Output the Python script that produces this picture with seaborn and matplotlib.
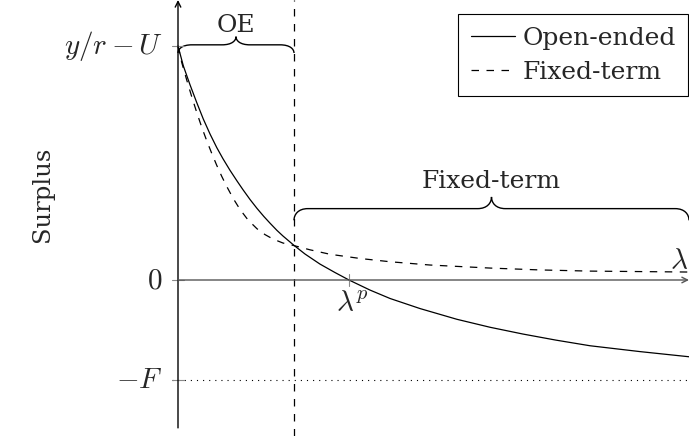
import numpy as np
import pandas as pd
import matplotlib
matplotlib.use("Agg")
import matplotlib.pyplot as plt
from matplotlib.path import Path
from matplotlib.patches import PathPatch
from matplotlib.lines import Line2D
import seaborn as sns

# ---- data (x in units of the OE/Fixed-term cutoff, y in units of y/r - U) ----
oe_x = [0.0, 0.046, 0.103, 0.161, 0.218, 0.276, 0.334, 0.388, 0.448, 0.509, 0.560,
        0.621, 0.681, 0.741, 0.793, 0.853, 0.905, 1.0, 1.095, 1.224, 1.353, 1.474,
        1.655, 1.828, 2.086, 2.405, 2.690, 2.974, 3.259, 3.552, 3.983, 4.405]
oe_y = [1.0, 0.915, 0.835, 0.759, 0.688, 0.624, 0.566, 0.518, 0.469, 0.423, 0.386,
        0.344, 0.306, 0.271, 0.243, 0.212, 0.188, 0.148, 0.111, 0.068, 0.032, 0.0,
        -0.043, -0.079, -0.122, -0.168, -0.202, -0.231, -0.257, -0.281, -0.306, -0.328]
ft_x = [0.0, 0.032, 0.075, 0.118, 0.161, 0.204, 0.247, 0.291, 0.334, 0.377, 0.420,
        0.474, 0.534, 0.603, 0.681, 0.750, 0.819, 0.905, 1.0, 1.138, 1.310, 1.569,
        1.828, 2.172, 2.690, 3.121, 3.552, 3.983, 4.405]
ft_y = [1.0, 0.930, 0.855, 0.784, 0.717, 0.654, 0.596, 0.541, 0.490, 0.443, 0.400,
        0.350, 0.302, 0.257, 0.219, 0.194, 0.175, 0.158, 0.147, 0.129, 0.110, 0.092,
        0.078, 0.064, 0.051, 0.043, 0.038, 0.036, 0.034]
cutoff = 1.0
lambda_p = 1.474
F_level = -0.427
top_level = 1.0
ytick_vals = [top_level, 0.0, F_level]
ytick_labels = [r"$y/r - U$", r"$0$", r"$-F$"]
series_names = ["Open-ended", "Fixed-term"]

sns.set_style("white")
plt.rcParams["font.family"] = ["DejaVu Serif"]
plt.rcParams["mathtext.fontset"] = "cm"

DASH = (0, (6, 6))
TXT = 18
MATH = 21

fig = plt.figure(figsize=(6.89, 4.36), dpi=100)
ax = fig.add_axes([0, 0, 1, 1])
ax.set_xlim(-178 / 116, (689 - 178) / 116)
ax.set_ylim((280 - 436) / 234, 280 / 234)
ax.axis("off")

df = pd.concat([
    pd.DataFrame({"x": oe_x, "y": oe_y, "series": series_names[0]}),
    pd.DataFrame({"x": ft_x, "y": ft_y, "series": series_names[1]}),
])
sns.lineplot(data=df[df.series == series_names[0]], x="x", y="y", ax=ax,
             color="black", lw=0.9, sort=False, estimator=None, legend=False)
sns.lineplot(data=df[df.series == series_names[1]], x="x", y="y", ax=ax,
             color="black", lw=0.9, sort=False, estimator=None, legend=False,
             linestyle=DASH)

xmax = ax.get_xlim()[1]
ytop = ax.get_ylim()[1]
ybot = ax.get_ylim()[0]

# axes
ax.annotate("", xy=(0, ytop), xytext=(0, -0.632),
            arrowprops=dict(arrowstyle="->", lw=1.0, color="black", shrinkA=0, shrinkB=0))
ax.annotate("", xy=(xmax, 0), xytext=(0, 0),
            arrowprops=dict(arrowstyle="->", lw=1.0, color="#555555", shrinkA=0, shrinkB=0))

# cutoff dashed vertical
ax.plot([cutoff, cutoff], [ybot, ytop], color="black", lw=0.9, linestyle=DASH)
# -F dotted line
ax.plot([-0.05, xmax], [F_level, F_level], color="black", lw=0.8, linestyle=(0, (1, 4.5)))

# ticks
for v, lab in zip(ytick_vals, ytick_labels):
    ax.plot([-0.05, 0.05], [v, v], color="#888888", lw=0.8)
    ax.text(-0.13, v, lab, ha="right", va="center", fontsize=MATH)
ax.plot([lambda_p, lambda_p], [-0.025, 0.025], color="#888888", lw=0.8)
ax.text(lambda_p + 0.03, -0.04, r"$\lambda^p$", ha="center", va="top", fontsize=MATH)
ax.text(xmax - 0.01, 0.02, r"$\lambda$", ha="right", va="bottom", fontsize=MATH)

ax.text(-1.17, 0.365, "Surplus", rotation=90, ha="center", va="center", fontsize=17.5)


def brace(x0, x1, y, h):
    xm = (x0 + x1) / 2
    r = 0.12
    verts = [
        (x0, y), (x0, y + h * 0.5), (x0 + r * 0.3, y + h), (x0 + r, y + h),
        (xm - r, y + h),
        (xm - r * 0.3, y + h), (xm, y + h * 1.5), (xm, y + 2 * h),
        (xm, y + h * 1.5), (xm + r * 0.3, y + h), (xm + r, y + h),
        (x1 - r, y + h),
        (x1 - r * 0.3, y + h), (x1, y + h * 0.5), (x1, y),
    ]
    codes = [Path.MOVETO, Path.CURVE4, Path.CURVE4, Path.CURVE4,
             Path.LINETO,
             Path.CURVE4, Path.CURVE4, Path.CURVE4,
             Path.CURVE4, Path.CURVE4, Path.CURVE4,
             Path.LINETO,
             Path.CURVE4, Path.CURVE4, Path.CURVE4]
    ax.add_patch(PathPatch(Path(verts, codes), fill=False, lw=1.0, color="black"))
    return xm, y + 2 * h


xm, yt = brace(0, cutoff, 0.97, 0.035)
ax.text(xm, yt + 0.0, "OE", ha="center", va="bottom", fontsize=TXT)
xm, yt = brace(cutoff, xmax, 0.255, 0.05)
ax.text(xm, yt + 0.015, "Fixed-term", ha="center", va="bottom", fontsize=TXT)

handles = [Line2D([], [], color="black", lw=0.9),
           Line2D([], [], color="black", lw=0.9, linestyle=DASH)]
leg = ax.legend(handles, series_names, loc="upper right",
                bbox_to_anchor=(688 / 689, 1 - 14 / 436), borderaxespad=0,
                fontsize=TXT, frameon=True, fancybox=False, edgecolor="black",
                framealpha=1, handlelength=1.75, handletextpad=0.3,
                borderpad=0.5, labelspacing=0.45)
leg.get_frame().set_linewidth(0.8)

fig.savefig("out.png", dpi=100)
